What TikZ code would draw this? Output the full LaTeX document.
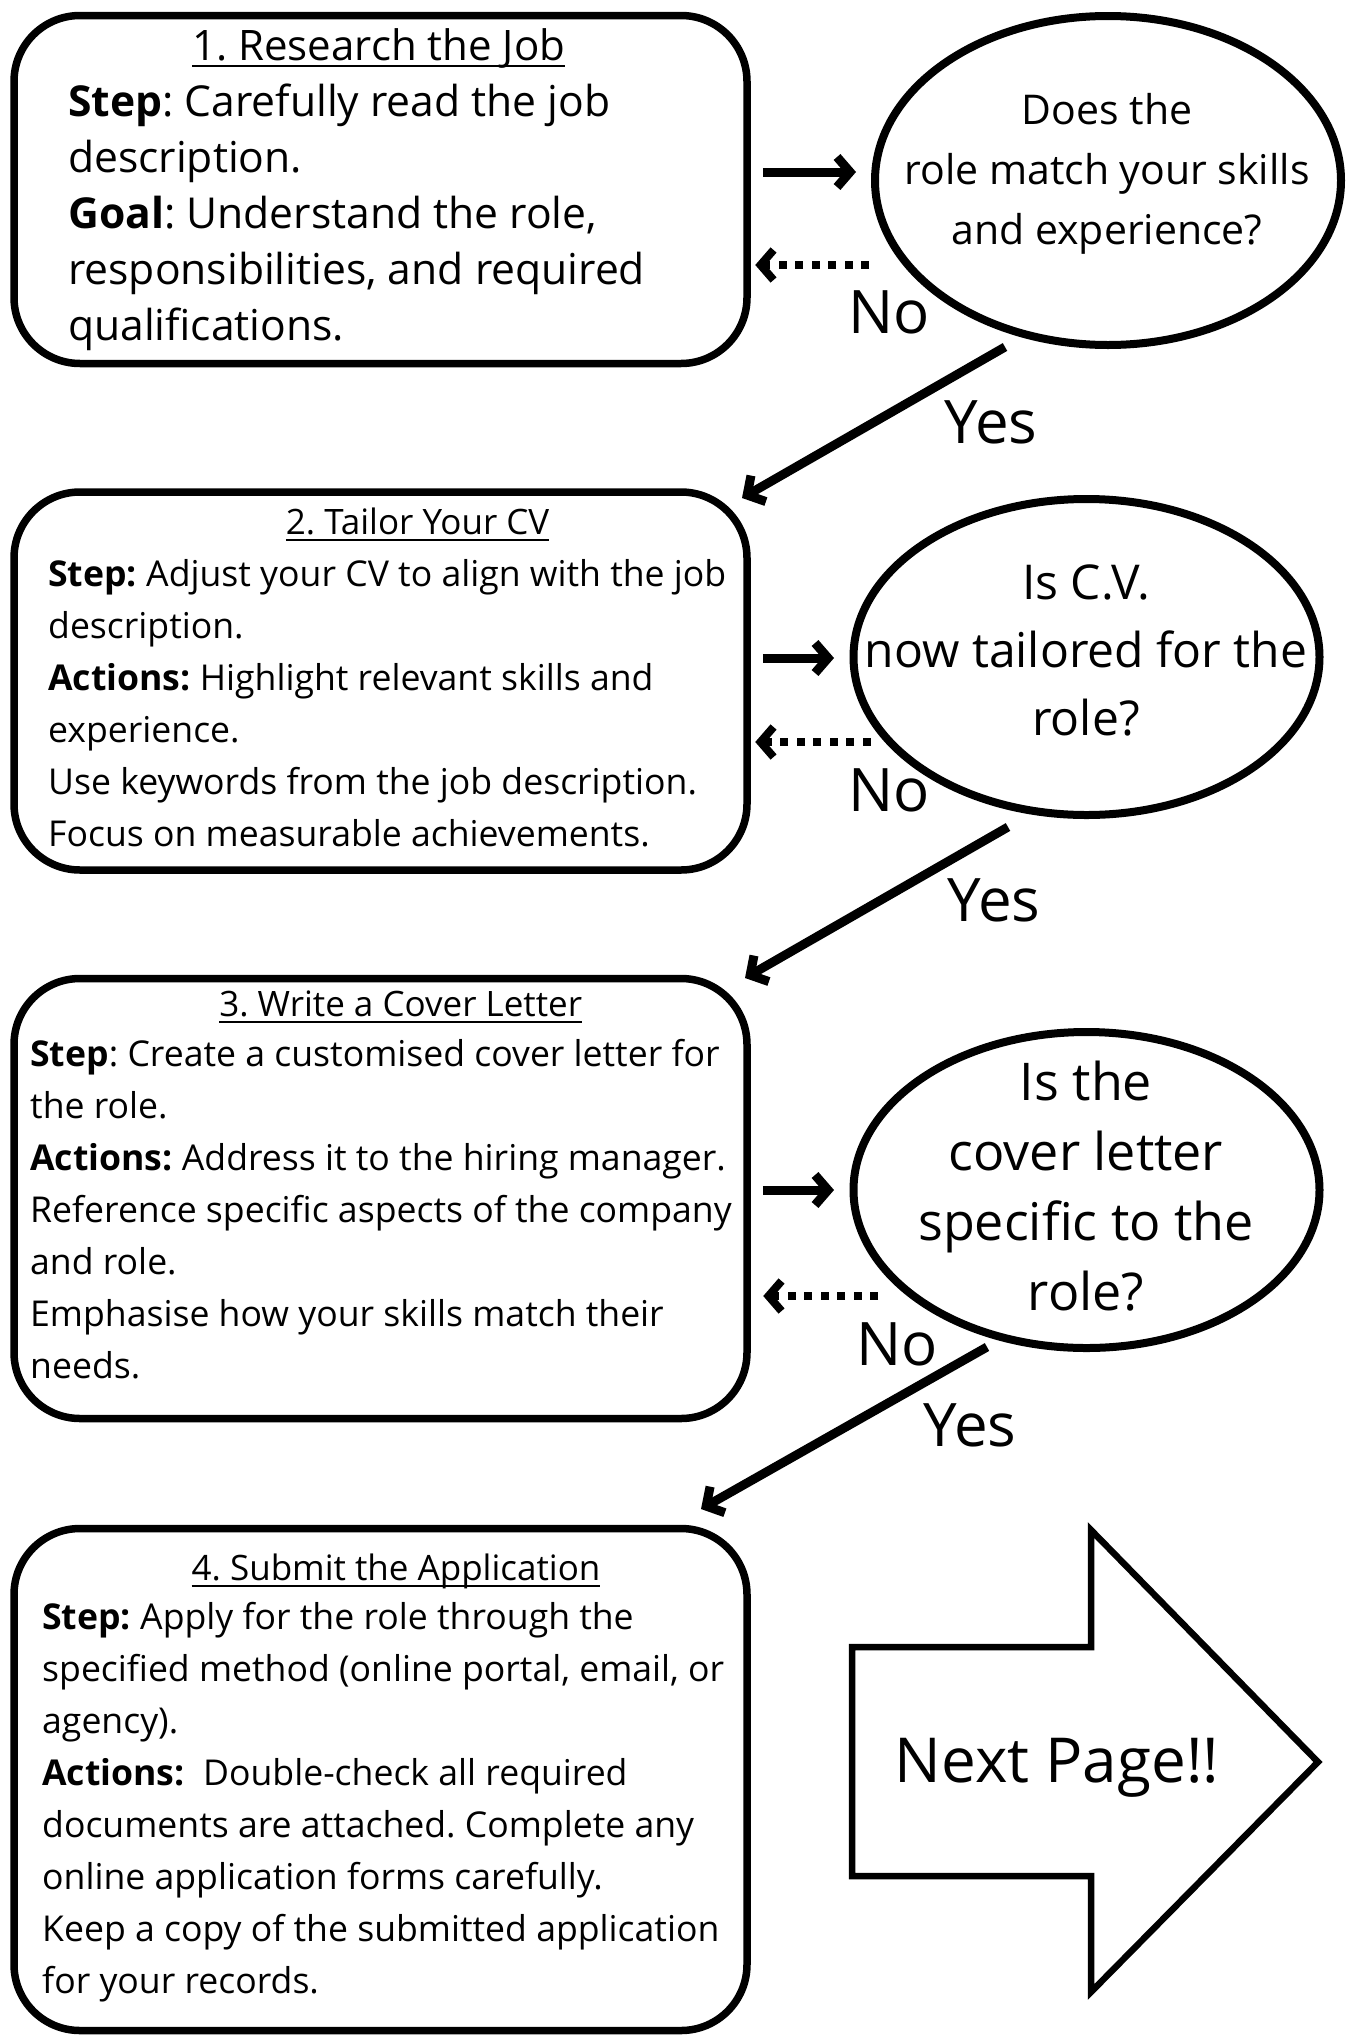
\documentclass[tikz,border=0pt]{standalone}
\usepackage{fontspec}
\setmainfont{Open Sans}
\usetikzlibrary{arrows.meta,shapes.geometric}
\newcommand\myul[1]{\setbox0=\hbox{#1}\rlap{\rule[-7pt]{\wd0}{2.5pt}}\box0}
\frenchspacing
\begin{document}
\begin{tikzpicture}[x=1pt,y=-1pt,
 box/.style={draw, line width=7.5pt, rounded corners=66pt, inner sep=0, minimum width=733pt},
 dec/.style={draw, ellipse, line width=8pt, inner sep=0, minimum width=466pt},
 body/.style={anchor=west, align=left, inner sep=0, font=\fontsize{35.6}{52}\selectfont},
 ttl/.style={anchor=base, inner sep=0, font=\fontsize{35}{42}\selectfont},
 arr/.style={line width=9pt, -{Straight Barb[length=13pt,width=30pt]}},
 dotarr/.style={line width=8pt, dash pattern=on 8pt off 8.5pt, -{Straight Barb[length=13pt,width=30pt]}},
 lbl/.style={inner sep=0, font=\fontsize{60}{72}\selectfont},
 qtxt/.style={inner sep=0, align=center}]
\fill[white] (0,0) rectangle (1355,2037);
\useasboundingbox (0,0) rectangle (1355,2037);

% boxes
\node[box, minimum height=348pt] (b1) at (380.5,189.5) {};
\node[box, minimum height=378pt] (b2) at (380.5,681) {};
\node[box, minimum height=440pt] (b3) at (380.5,1198.5) {};
\node[box, minimum height=502pt] (b4) at (380.5,1779.5) {};

% titles
\node[ttl, font=\fontsize{42}{50}\selectfont] (t1) at (378.7,60) {\myul{1. Research the Job}};
\node[ttl] (t2) at (417.6,534) {\myul{2. Tailor Your CV}};
\node[ttl] (t3) at (400.7,1016) {\myul{3. Write a Cover Letter}};
\node[ttl] (t4) at (396,1580) {\myul{4. Submit the Application}};

% bodies
\node[body, font=\fontsize{42.6}{56}\selectfont] (x1) at (68,217) {\textbf{Step}: Carefully read the job\\
description.\\
\textbf{Goal}: Understand the role,\\
responsibilities, and required\\
qualifications.};
\node[body] (x2) at (48,703) {\textbf{Step:} Adjust your CV to align with the job\\
description.\\
\textbf{Actions:} Highlight relevant skills and\\
experience.\\
Use keywords from the job description.\\
Focus on measurable achievements.};
\node[body] (x3) at (30,1209) {\textbf{Step}: Create a customised cover letter for\\
the role.\\
\textbf{Actions:} Address it to the hiring manager.\\
Reference specific aspects of the company\\
and role.\\
Emphasise how your skills match their\\
needs.};
\node[body] (x4) at (42,1802) {\textbf{Step:} Apply for the role through the\\
specified method (online portal, email, or\\
agency).\\
\textbf{Actions:}\ \ Double-check all required\\
documents are attached. Complete any\\
online application forms carefully.\\
Keep a copy of the submitted application\\
for your records.};

% decisions
\node[dec, minimum height=329pt] (e1) at (1108,180.5) {};
\node[dec, minimum height=316pt] (e2) at (1086.5,657) {};
\node[dec, minimum height=316pt] (e3) at (1086.5,1190) {};
\node[qtxt, font=\fontsize{41}{60}\selectfont] (q1) at (1107,174) {Does the\\role match your skills\\and experience?};
\node[qtxt, font=\fontsize{48}{68}\selectfont] (q2) at (1086,650) {Is C.V.\\now tailored for the\\role?};
\node[qtxt, font=\fontsize{52}{70}\selectfont] (q3) at (1086,1186) {Is the\\cover letter\\specific to the\\role?};

% forward arrows
\draw[arr, shorten <=12pt, shorten >=15pt] (b1.east |- 0,172) -- (e1.west |- 0,172);
\draw[arr, shorten <=12pt, shorten >=15.5pt] (b2.east |- 0,658) -- (e2.west |- 0,658);
\draw[arr, shorten <=12pt, shorten >=15.5pt] (b3.east |- 0,1190) -- (e3.west |- 0,1190);

% No arrows
\draw[dotarr, shorten <=2pt, shorten >=4.5pt] (e1.west |- 0,265) -- (b1.east |- 0,265);
\draw[dotarr, shorten <=-21pt, shorten >=4.5pt] (e2.west |- 0,742) -- (b2.east |- 0,742);
\draw[dotarr, shorten <=-28.5pt, shorten >=12.5pt] (e3.west |- 0,1296) -- (b3.east |- 0,1296);
\node[lbl] (n1) at (889,312) {No};
\node[lbl] (n2) at (889,790) {No};
\node[lbl] (n3) at (897,1344) {No};

% Yes arrows
\coordinate (y1s) at (1005,347);
\coordinate (y1e) at (742,498);
\coordinate (y2s) at (1008,827);
\coordinate (y2e) at (745,978);
\coordinate (y3s) at (987,1347);
\coordinate (y3e) at (701,1509);
\draw[arr] (y1s) -- (y1e);
\draw[arr] (y2s) -- (y2e);
\draw[arr] (y3s) -- (y3e);
\node[lbl] (s1) at (991,422) {Yes};
\node[lbl] (s2) at (994,900) {Yes};
\node[lbl] (s3) at (970,1425) {Yes};

% next page arrow
\draw[line width=6.5pt, line join=miter] (852,1647) -- (1091,1647) -- (1091,1530) -- (1318,1762) -- (1091,1992) -- (1091,1876) -- (852,1876) -- cycle;
\node[inner sep=0, font=\fontsize{62}{70}\selectfont] (np) at (1057,1768) {Next Page!!};
\end{tikzpicture}
\end{document}
